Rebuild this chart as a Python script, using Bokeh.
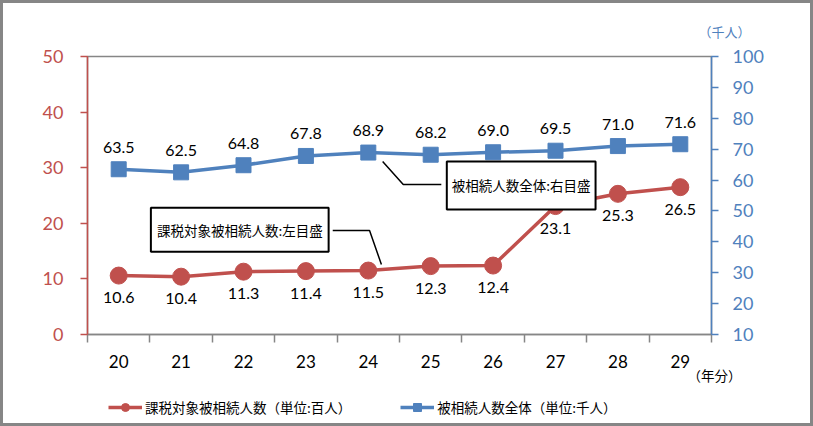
from bokeh.plotting import figure
from bokeh.layouts import column
from bokeh.models import (Range1d, LinearAxis, FixedTicker, Label, Legend, LegendItem,
                          ColumnDataSource, Title)
from bokeh.core.properties import value
from bokeh.embed import file_html
from bokeh.resources import INLINE

years = [20, 21, 22, 23, 24, 25, 26, 27, 28, 29]
taxed = [10.6, 10.4, 11.3, 11.4, 11.5, 12.3, 12.4, 23.1, 25.3, 26.5]   # 百人
total = [63.5, 62.5, 64.8, 67.8, 68.9, 68.2, 69.0, 69.5, 71.0, 71.6]   # 千人
left_ticks = [0, 10, 20, 30, 40, 50]
right_ticks = [10, 20, 30, 40, 50, 60, 70, 80, 90, 100]

name_taxed = "課税対象被相続人数（単位:百人）"
name_total = "被相続人数全体（単位:千人）"
note_taxed = "課税対象被相続人数:左目盛"
note_total = "被相続人数全体:右目盛"
unit_right = "（千人）"
unit_x = "（年分）"

RED = "#C0504D"
BLUE = "#4F81BD"
GREY = "#868686"
NUM_FONT = "Lato"
JP_FONT = "Noto Sans CJK JP"

p = figure(width=807, height=386, output_backend="svg", toolbar_location=None,
           x_range=Range1d(19.5, 29.5), y_range=Range1d(0, 50),
           min_border_left=84, min_border_right=99, min_border_top=53, min_border_bottom=55)
p.extra_y_ranges = {"right": Range1d(10, 100)}
p.xgrid.visible = False
p.ygrid.visible = False
p.outline_line_color = GREY
p.outline_line_width = 1.5
p.background_fill_color = "white"
p.border_fill_color = "white"

# x axis
xa = p.xaxis[0]
xa.ticker = FixedTicker(ticks=years, minor_ticks=[y - 0.5 for y in years] + [years[-1] + 0.5])
xa.axis_line_color = GREY
xa.axis_line_width = 1.5
xa.major_tick_line_color = None
xa.minor_tick_line_color = GREY
xa.minor_tick_line_width = 1.5
xa.minor_tick_out = 8
xa.minor_tick_in = 0
xa.major_label_standoff = 12
xa.major_label_text_font = NUM_FONT
xa.major_label_text_font_size = "17px"
xa.major_label_text_color = "#000000"

# left axis
ya = p.yaxis[0]
ya.ticker = FixedTicker(ticks=left_ticks)
ya.axis_line_color = RED
ya.axis_line_width = 1.5
ya.major_tick_line_color = RED
ya.major_tick_line_width = 1.5
ya.major_tick_out = 7
ya.major_tick_in = 0
ya.minor_tick_line_color = None
ya.major_label_standoff = 17
ya.major_label_text_font = NUM_FONT
ya.major_label_text_font_size = "18px"
ya.major_label_text_color = RED

# right axis
ra = LinearAxis(y_range_name="right", ticker=FixedTicker(ticks=right_ticks))
ra.axis_line_color = BLUE
ra.axis_line_width = 1.5
ra.major_tick_line_color = BLUE
ra.major_tick_line_width = 1.5
ra.major_tick_out = 7
ra.major_tick_in = 0
ra.minor_tick_line_color = None
ra.major_label_standoff = 14
ra.major_label_text_font = NUM_FONT
ra.major_label_text_font_size = "18px"
ra.major_label_text_color = BLUE
p.add_layout(ra, "right")

src = ColumnDataSource(dict(
    x=years, taxed=taxed, total=total,
    taxed_lbl=[f"{v:.1f}" for v in taxed],
    total_lbl=[f"{v:.1f}" for v in total],
))

# series
p.line("x", "total", source=src, y_range_name="right", color=BLUE, line_width=3.5)
p.scatter("x", "total", source=src, y_range_name="right", marker="square", size=15, color=BLUE)
p.line("x", "taxed", source=src, color=RED, line_width=3.5)
p.scatter("x", "taxed", source=src, marker="circle", size=17, color=RED)

# data labels
p.text("x", "total", text="total_lbl", source=src, y_range_name="right",
       text_align="center", text_baseline="middle", y_offset=-22,
       text_font=value(NUM_FONT), text_font_size="16px", text_color="#000000")
p.text("x", "taxed", text="taxed_lbl", source=src,
       text_align="center", text_baseline="middle", y_offset=22,
       text_font=value(NUM_FONT), text_font_size="16px", text_color="#000000")

# leader lines for notes
p.line([23.43, 24.02, 24.21], [18.7, 18.7, 12.6], color="black", line_width=1.5)
p.line([25.17, 24.56, 24.23], [26.98, 26.98, 31.1], color="black", line_width=1.5)

# note boxes
p.add_layout(Label(x=21.94, y=18.85, text=note_taxed, text_align="center",
                   text_baseline="middle", text_font=JP_FONT, text_font_size="13.5px",
                   text_color="black", background_fill_color="white",
                   border_line_color="black", border_line_width=2, padding=(6, 12)))
p.add_layout(Label(x=26.45, y=26.8, text=note_total, text_align="center",
                   text_baseline="middle", text_font=JP_FONT, text_font_size="13.5px",
                   text_color="black", background_fill_color="white",
                   border_line_color="black", border_line_width=2, padding=(5, 14)))

# unit labels
p.add_layout(Title(text=unit_right, align="right", offset=-39, standoff=31,
                   text_font=JP_FONT, text_font_size="13px", text_color=BLUE,
                   text_font_style="normal"), "above")
p.add_layout(Title(text=unit_x, align="right", offset=-30, standoff=-15,
                   text_font=JP_FONT, text_font_size="13.5px", text_color="black",
                   text_font_style="normal"), "below")

# legend strip (separate figure so the legend is not clipped); its renderers
# use the same data but lie outside this strip's ranges, so only the legend shows
lp = figure(width=807, height=34, output_backend="svg", toolbar_location=None,
            x_axis_location=None, y_axis_location=None, min_border=0,
            x_range=Range1d(0, 1), y_range=Range1d(0, 1))
lp.xgrid.visible = False
lp.ygrid.visible = False
lp.outline_line_color = None
lp.border_fill_color = "white"
r1 = lp.line("x", "taxed", source=src, color=RED, line_width=3.5)
r2 = lp.scatter("x", "taxed", source=src, marker="circle", size=10, color=RED)
r3 = lp.line("x", "total", source=src, color=BLUE, line_width=3.5)
r4 = lp.scatter("x", "total", source=src, marker="square", size=9, color=BLUE)
legend = Legend(items=[LegendItem(label=name_taxed, renderers=[r1, r2]),
                       LegendItem(label=name_total, renderers=[r3, r4])],
                orientation="horizontal", location=(21, 6),
                glyph_width=34, glyph_height=20, label_height=20, label_standoff=3,
                spacing=49, padding=0, margin=0, border_line_color=None,
                background_fill_alpha=0, label_text_font=JP_FONT,
                label_text_font_size="13.5px", label_text_color="black")
lp.add_layout(legend, "center")

layout = column(p, lp, spacing=0, styles={"border": "3px solid " + GREY})

open("out.html", "w").write(file_html(layout, INLINE))
